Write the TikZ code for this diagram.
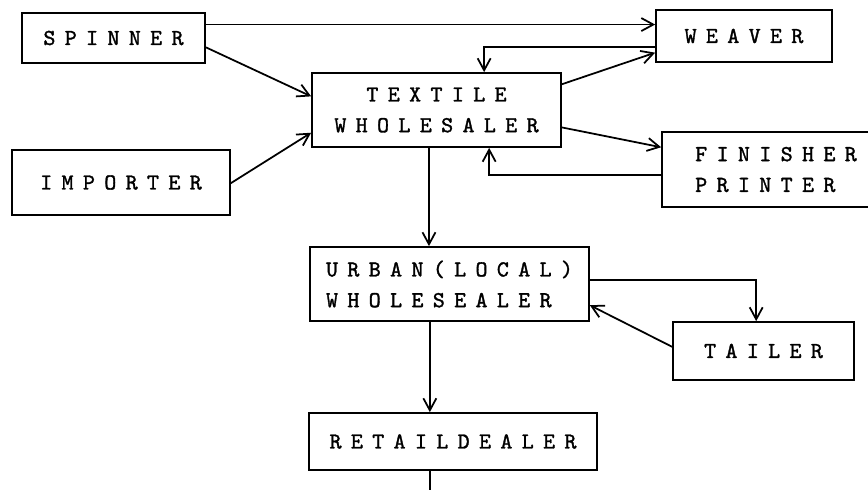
\documentclass[tikz,border=0pt]{standalone}
\usepackage{fontspec}
\usetikzlibrary{arrows.meta,calc}
\newfontfamily\twfont{lmmono10-regular}[Extension=.otf,LetterSpace=41,FakeBold=1.4]
\newcommand{\tw}{\fontsize{13}{17.5}\selectfont\twfont}
\tikzset{
  box/.style={draw,line width=1pt,inner sep=0pt,font=\tw},
  flow/.style={line width=1pt,-{Straight Barb[length=2.4mm,width=2.6mm]}},
}
\begin{document}
\begin{tikzpicture}[x=0.02cm,y=-0.02cm]
\useasboundingbox (0,0) rectangle (868,490);
% boxes
\node[box,minimum width=3.66cm,minimum height=1.0cm] (spinner) at (113.5,38) {SPINNER};
\node[box,minimum width=4.36cm,minimum height=1.3cm] (importer) at (121,182.5) {IMPORTER};
\node[box,minimum width=4.98cm,minimum height=1.48cm,align=center] (textile) at (436.5,110) {TEXTILE\\WHOLESALER};
\node[box,minimum width=3.52cm,minimum height=1.04cm] (weaver) at (744,36) {WEAVER};
\node[box,minimum width=4.56cm,minimum height=1.5cm,align=left] (finisher) at (776,169.5) {FINISHER\\PRINTER};
\node[box,minimum width=5.58cm,minimum height=1.48cm,align=left] (urban) at (449.5,284) {URBAN(LOCAL)\\WHOLESEALER};
\node[box,minimum width=3.62cm,minimum height=1.16cm] (tailer) at (763.5,351) {TAILER};
\node[box,minimum width=5.76cm,minimum height=1.14cm] (retail) at (453,441.5) {RETAILDEALER};
% flows
\coordinate (s1) at ($(spinner.north east)!.24!(spinner.south east)$);
\draw[flow] (s1) -- (s1 -| weaver.west);
\draw[flow] ($(spinner.north east)!.68!(spinner.south east)$) -- ($(textile.north west)!.32!(textile.south west)$);
\draw[flow] ($(importer.north east)!.51!(importer.south east)$) -- ($(textile.north west)!.8!(textile.south west)$);
\draw[flow] ($(weaver.north west)!.71!(weaver.south west)$) -| ($(textile.north west)!.69!(textile.north east)$);
\draw[flow] ($(textile.north east)!.16!(textile.south east)$) -- ($(weaver.north west)!.81!(weaver.south west)$);
\draw[flow] ($(textile.north east)!.73!(textile.south east)$) -- ($(finisher.north west)!.21!(finisher.south west)$);
\draw[flow] ($(finisher.north west)!.57!(finisher.south west)$) -| ($(textile.south west)!.71!(textile.south east)$);
\coordinate (t3) at ($(textile.south west)!.47!(textile.south east)$);
\draw[flow] (t3) -- (t3 |- urban.north);
\draw[flow] ($(urban.north east)!.45!(urban.south east)$) -| ($(tailer.north west)!.46!(tailer.north east)$);
\draw[flow] ($(tailer.north west)!.43!(tailer.south west)$) -- ($(urban.north east)!.78!(urban.south east)$);
\coordinate (u3) at ($(urban.south west)!.43!(urban.south east)$);
\draw[flow] (u3) -- (u3 |- retail.north);
\coordinate (r3) at ($(retail.south west)!.42!(retail.south east)$);
\coordinate (out) at (r3 |- 0,490);
\draw[line width=1pt] (r3) -- (out);
\end{tikzpicture}
\end{document}
